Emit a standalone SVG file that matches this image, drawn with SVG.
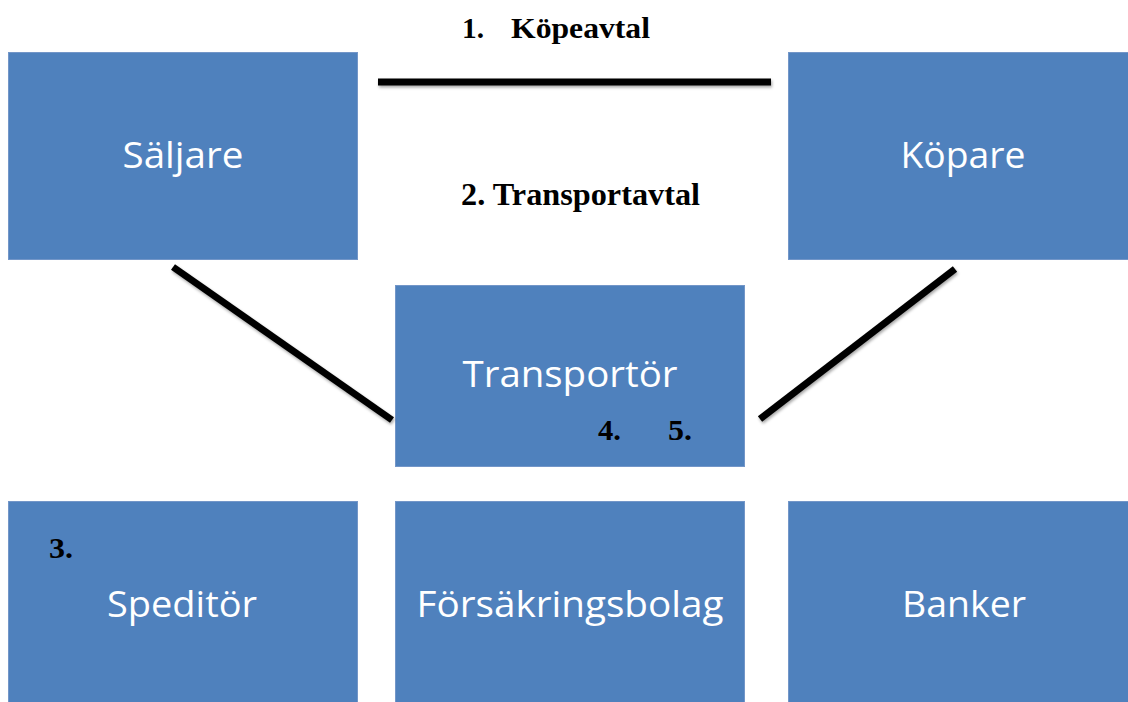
<svg xmlns="http://www.w3.org/2000/svg" width="1128" height="702" viewBox="0 0 1128 702">
<style>
.box{fill:#4F81BD;stroke:#7396c8;stroke-width:1}
.lbl{font-family:"Open Sans","Liberation Sans",sans-serif;font-size:37px;fill:#ffffff;text-anchor:middle}
.num{font-family:"Liberation Serif",serif;font-weight:bold;font-size:30px;fill:#000000}
.ln{stroke:#000000;stroke-width:7;stroke-linecap:butt;fill:none}
</style>
<defs>
<filter id="sh" x="-10%" y="-50%" width="120%" height="200%">
<feDropShadow dx="1" dy="2" stdDeviation="1.5" flood-color="#000" flood-opacity="0.35"/>
</filter>
</defs>
<rect width="1128" height="702" fill="#ffffff"/>
<g id="saljare"><rect class="box" x="8.5" y="52.5" width="349" height="207"/><text class="lbl" x="183" y="168" textLength="121" lengthAdjust="spacingAndGlyphs">Säljare</text></g>
<g id="kopare"><rect class="box" x="788.5" y="52.5" width="349" height="207"/><text class="lbl" x="963" y="168" textLength="125" lengthAdjust="spacingAndGlyphs">Köpare</text></g>
<g id="transportor"><rect class="box" x="395.5" y="285.5" width="349" height="181"/><text class="lbl" x="570" y="387" textLength="215" lengthAdjust="spacingAndGlyphs">Transportör</text><text class="num" x="598" y="440" textLength="23" lengthAdjust="spacingAndGlyphs">4.</text><text class="num" x="668" y="440" textLength="24" lengthAdjust="spacingAndGlyphs">5.</text></g>
<g id="speditor"><rect class="box" x="8.5" y="501.5" width="349" height="210"/><text class="lbl" x="182" y="617" textLength="150" lengthAdjust="spacingAndGlyphs">Speditör</text><text class="num" x="49" y="558" textLength="24" lengthAdjust="spacingAndGlyphs">3.</text></g>
<g id="forsakringsbolag"><rect class="box" x="395.5" y="501.5" width="349" height="210"/><text class="lbl" x="570" y="617" textLength="307" lengthAdjust="spacingAndGlyphs">Försäkringsbolag</text></g>
<g id="banker"><rect class="box" x="788.5" y="501.5" width="349" height="210"/><text class="lbl" x="964" y="617" textLength="124" lengthAdjust="spacingAndGlyphs">Banker</text></g>
<g id="connectors" filter="url(#sh)">
<line class="ln" x1="378" y1="82" x2="771" y2="82"/>
<line class="ln" x1="173" y1="267" x2="392" y2="420"/>
<line class="ln" x1="955" y1="269" x2="760" y2="419"/>
</g>
<g id="labels">
<text class="num" y="38" style="font-size:29px"><tspan x="462" textLength="22" lengthAdjust="spacingAndGlyphs">1.</tspan><tspan x="511" textLength="139" lengthAdjust="spacingAndGlyphs">Köpeavtal</tspan></text>
<text class="num" x="461" y="205" style="font-size:32px" textLength="239" lengthAdjust="spacingAndGlyphs">2. Transportavtal</text>
</g>
</svg>
